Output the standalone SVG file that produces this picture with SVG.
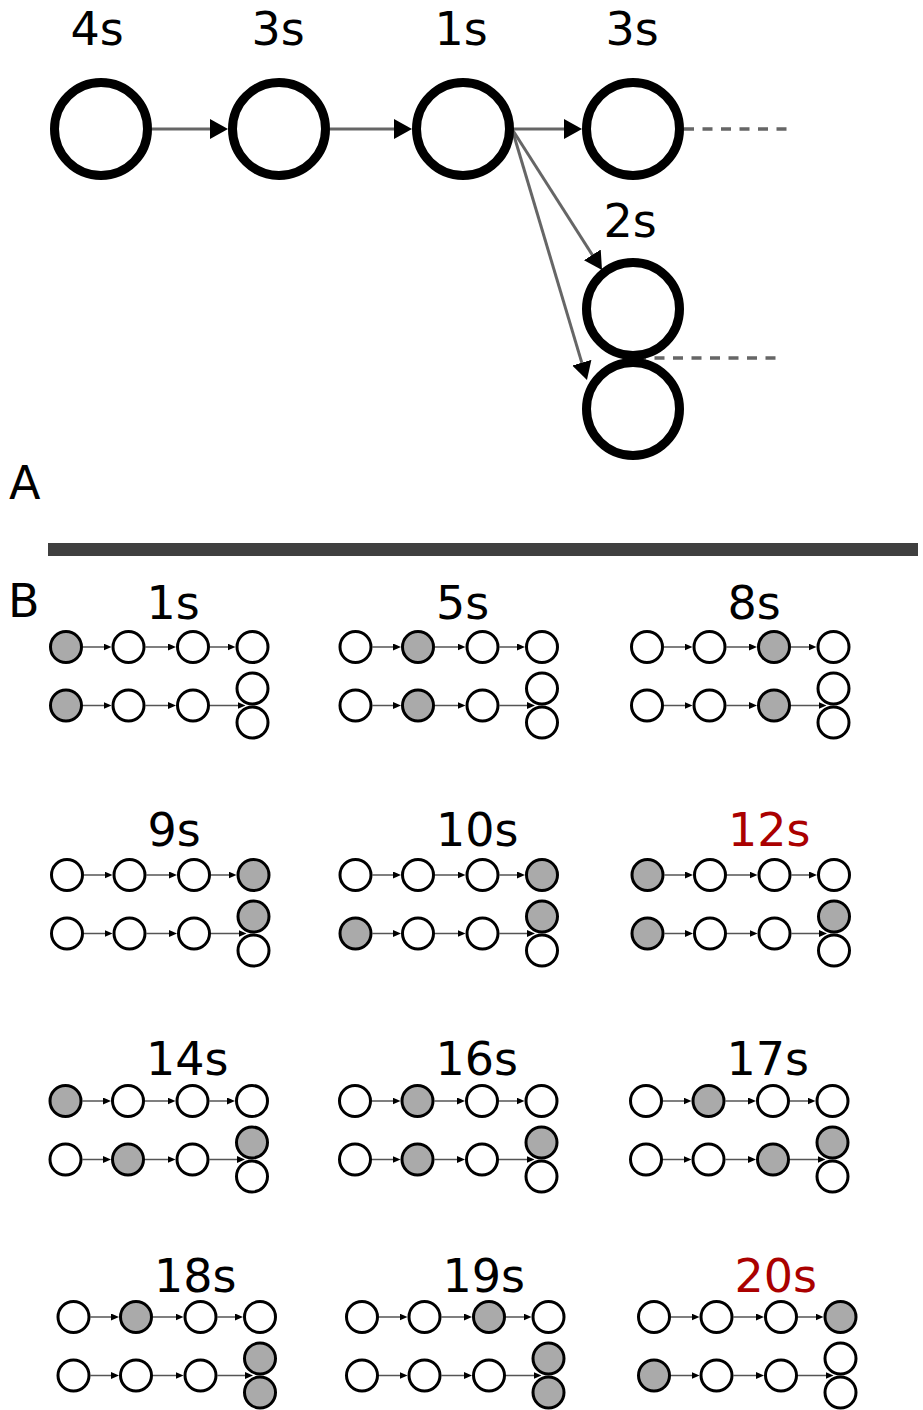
<svg xmlns="http://www.w3.org/2000/svg" xmlns:xlink="http://www.w3.org/1999/xlink" width="923" height="1410" viewBox="0 0 923 1410">
<style>
  text { font-family: "DejaVu Sans", "Liberation Sans", sans-serif; font-size: 46px; fill: #000; }
  .red { fill: #aa0000; }
  .big { fill: #fff; stroke: #000; stroke-width: 9; }
  .edge { stroke: #666; stroke-width: 3; fill: none; }
  .dash { stroke: #666; stroke-width: 3.5; fill: none; stroke-dasharray: 10 8.5; }
  .sm { fill: #fff; stroke: #000; stroke-width: 3; }
  .on { fill: #aaa; }
  .sedge { stroke: #555; stroke-width: 1.5; fill: none; }
</style>
<defs>
  <marker id="ah" viewBox="0 0 18 20" refX="8" refY="10" markerWidth="18" markerHeight="20" markerUnits="userSpaceOnUse" orient="auto">
    <path d="M0,0 L18,10 L0,20 z" fill="#000"/>
  </marker>
  <marker id="sah" viewBox="0 0 8 7" refX="5" refY="3.5" markerWidth="8" markerHeight="7" markerUnits="userSpaceOnUse" orient="auto">
    <path d="M0,0 L8,3.5 L0,7 z" fill="#000"/>
  </marker>
  <g id="pedges">
    <line class="sedge" x1="17" y1="0" x2="42.5" y2="0" marker-end="url(#sah)"/>
    <line class="sedge" x1="79.5" y1="0" x2="107" y2="0" marker-end="url(#sah)"/>
    <line class="sedge" x1="144" y1="0" x2="166.5" y2="0" marker-end="url(#sah)"/>
    <line class="sedge" x1="17" y1="58.5" x2="42.5" y2="58.5" marker-end="url(#sah)"/>
    <line class="sedge" x1="79.5" y1="58.5" x2="107" y2="58.5" marker-end="url(#sah)"/>
    <line class="sedge" x1="144" y1="58.5" x2="176.5" y2="58.5" marker-end="url(#sah)"/>
  </g>
</defs>

<!-- Part A -->
<g id="connectors-A">
  <line class="edge" x1="152" y1="129" x2="218" y2="129" marker-end="url(#ah)"/>
  <line class="edge" x1="330" y1="129" x2="402" y2="129" marker-end="url(#ah)"/>
  <line class="edge" x1="512" y1="129" x2="572" y2="129" marker-end="url(#ah)"/>
  <line class="edge" x1="512" y1="129" x2="596.6" y2="261.6" marker-end="url(#ah)"/>
  <line class="edge" x1="512" y1="129" x2="584.1" y2="370.4" marker-end="url(#ah)"/>
  <line class="dash" x1="684" y1="129" x2="788" y2="129"/>
  <line class="dash" x1="636" y1="358" x2="784" y2="358"/>
</g>
<g id="nodeA1"><circle class="big" cx="101" cy="129" r="46.5"/><text x="97" y="45" text-anchor="middle">4s</text></g>
<g id="nodeA2"><circle class="big" cx="279" cy="129" r="46.5"/><text x="278" y="45" text-anchor="middle">3s</text></g>
<g id="nodeA3"><circle class="big" cx="463" cy="129" r="46.5"/><text x="461" y="45" text-anchor="middle">1s</text></g>
<g id="nodeA4"><circle class="big" cx="633" cy="129" r="46.5"/><text x="632" y="45" text-anchor="middle">3s</text></g>
<g id="nodeA5"><circle class="big" cx="633" cy="309" r="46.5"/><text x="630" y="237" text-anchor="middle">2s</text></g>
<g id="nodeA6"><circle class="big" cx="633" cy="409" r="46.5"/></g>
<text id="labelA" x="9" y="499">A</text>

<rect id="divider" x="48" y="543" width="870" height="13" fill="#3f3f3f"/>

<text id="labelB" x="8" y="617">B</text>

<!-- Part B panels: t1 t2 t3 t4 / b1 b2 b3 / s1 s2 -->
<g id="panel-1s" transform="translate(66,647)">
  <text x="80.5" y="-28">1s</text>
  <use xlink:href="#pedges"/>
  <circle class="sm on" cx="0" cy="0" r="15.5"/><circle class="sm" cx="62.5" cy="0" r="15.5"/><circle class="sm" cx="127" cy="0" r="15.5"/><circle class="sm" cx="186.5" cy="0" r="15.5"/>
  <circle class="sm on" cx="0" cy="58.5" r="15.5"/><circle class="sm" cx="62.5" cy="58.5" r="15.5"/><circle class="sm" cx="127" cy="58.5" r="15.5"/>
  <circle class="sm" cx="186.5" cy="41.5" r="15.5"/><circle class="sm" cx="186.5" cy="75.5" r="15.5"/>
</g>
<g id="panel-5s" transform="translate(355.5,647)">
  <text x="80.5" y="-28">5s</text>
  <use xlink:href="#pedges"/>
  <circle class="sm" cx="0" cy="0" r="15.5"/><circle class="sm on" cx="62.5" cy="0" r="15.5"/><circle class="sm" cx="127" cy="0" r="15.5"/><circle class="sm" cx="186.5" cy="0" r="15.5"/>
  <circle class="sm" cx="0" cy="58.5" r="15.5"/><circle class="sm on" cx="62.5" cy="58.5" r="15.5"/><circle class="sm" cx="127" cy="58.5" r="15.5"/>
  <circle class="sm" cx="186.5" cy="41.5" r="15.5"/><circle class="sm" cx="186.5" cy="75.5" r="15.5"/>
</g>
<g id="panel-8s" transform="translate(647,647)">
  <text x="80.5" y="-28">8s</text>
  <use xlink:href="#pedges"/>
  <circle class="sm" cx="0" cy="0" r="15.5"/><circle class="sm" cx="62.5" cy="0" r="15.5"/><circle class="sm on" cx="127" cy="0" r="15.5"/><circle class="sm" cx="186.5" cy="0" r="15.5"/>
  <circle class="sm" cx="0" cy="58.5" r="15.5"/><circle class="sm" cx="62.5" cy="58.5" r="15.5"/><circle class="sm on" cx="127" cy="58.5" r="15.5"/>
  <circle class="sm" cx="186.5" cy="41.5" r="15.5"/><circle class="sm" cx="186.5" cy="75.5" r="15.5"/>
</g>

<g id="panel-9s" transform="translate(67,875)">
  <text x="80.5" y="-29">9s</text>
  <use xlink:href="#pedges"/>
  <circle class="sm" cx="0" cy="0" r="15.5"/><circle class="sm" cx="62.5" cy="0" r="15.5"/><circle class="sm" cx="127" cy="0" r="15.5"/><circle class="sm on" cx="186.5" cy="0" r="15.5"/>
  <circle class="sm" cx="0" cy="58.5" r="15.5"/><circle class="sm" cx="62.5" cy="58.5" r="15.5"/><circle class="sm" cx="127" cy="58.5" r="15.5"/>
  <circle class="sm on" cx="186.5" cy="41.5" r="15.5"/><circle class="sm" cx="186.5" cy="75.5" r="15.5"/>
</g>
<g id="panel-10s" transform="translate(355.5,875)">
  <text x="80.5" y="-29">10s</text>
  <use xlink:href="#pedges"/>
  <circle class="sm" cx="0" cy="0" r="15.5"/><circle class="sm" cx="62.5" cy="0" r="15.5"/><circle class="sm" cx="127" cy="0" r="15.5"/><circle class="sm on" cx="186.5" cy="0" r="15.5"/>
  <circle class="sm on" cx="0" cy="58.5" r="15.5"/><circle class="sm" cx="62.5" cy="58.5" r="15.5"/><circle class="sm" cx="127" cy="58.5" r="15.5"/>
  <circle class="sm on" cx="186.5" cy="41.5" r="15.5"/><circle class="sm" cx="186.5" cy="75.5" r="15.5"/>
</g>
<g id="panel-12s" transform="translate(647.5,875)">
  <text class="red" x="80.5" y="-29">12s</text>
  <use xlink:href="#pedges"/>
  <circle class="sm on" cx="0" cy="0" r="15.5"/><circle class="sm" cx="62.5" cy="0" r="15.5"/><circle class="sm" cx="127" cy="0" r="15.5"/><circle class="sm" cx="186.5" cy="0" r="15.5"/>
  <circle class="sm on" cx="0" cy="58.5" r="15.5"/><circle class="sm" cx="62.5" cy="58.5" r="15.5"/><circle class="sm" cx="127" cy="58.5" r="15.5"/>
  <circle class="sm on" cx="186.5" cy="41.5" r="15.5"/><circle class="sm" cx="186.5" cy="75.5" r="15.5"/>
</g>

<g id="panel-14s" transform="translate(65.5,1101)">
  <text x="80.5" y="-26">14s</text>
  <use xlink:href="#pedges"/>
  <circle class="sm on" cx="0" cy="0" r="15.5"/><circle class="sm" cx="62.5" cy="0" r="15.5"/><circle class="sm" cx="127" cy="0" r="15.5"/><circle class="sm" cx="186.5" cy="0" r="15.5"/>
  <circle class="sm" cx="0" cy="58.5" r="15.5"/><circle class="sm on" cx="62.5" cy="58.5" r="15.5"/><circle class="sm" cx="127" cy="58.5" r="15.5"/>
  <circle class="sm on" cx="186.5" cy="41.5" r="15.5"/><circle class="sm" cx="186.5" cy="75.5" r="15.5"/>
</g>
<g id="panel-16s" transform="translate(355,1101)">
  <text x="80.5" y="-26">16s</text>
  <use xlink:href="#pedges"/>
  <circle class="sm" cx="0" cy="0" r="15.5"/><circle class="sm on" cx="62.5" cy="0" r="15.5"/><circle class="sm" cx="127" cy="0" r="15.5"/><circle class="sm" cx="186.5" cy="0" r="15.5"/>
  <circle class="sm" cx="0" cy="58.5" r="15.5"/><circle class="sm on" cx="62.5" cy="58.5" r="15.5"/><circle class="sm" cx="127" cy="58.5" r="15.5"/>
  <circle class="sm on" cx="186.5" cy="41.5" r="15.5"/><circle class="sm" cx="186.5" cy="75.5" r="15.5"/>
</g>
<g id="panel-17s" transform="translate(646,1101)">
  <text x="80.5" y="-26">17s</text>
  <use xlink:href="#pedges"/>
  <circle class="sm" cx="0" cy="0" r="15.5"/><circle class="sm on" cx="62.5" cy="0" r="15.5"/><circle class="sm" cx="127" cy="0" r="15.5"/><circle class="sm" cx="186.5" cy="0" r="15.5"/>
  <circle class="sm" cx="0" cy="58.5" r="15.5"/><circle class="sm" cx="62.5" cy="58.5" r="15.5"/><circle class="sm on" cx="127" cy="58.5" r="15.5"/>
  <circle class="sm on" cx="186.5" cy="41.5" r="15.5"/><circle class="sm" cx="186.5" cy="75.5" r="15.5"/>
</g>

<g id="panel-18s" transform="translate(73.5,1317)">
  <text x="80.5" y="-25">18s</text>
  <use xlink:href="#pedges"/>
  <circle class="sm" cx="0" cy="0" r="15.5"/><circle class="sm on" cx="62.5" cy="0" r="15.5"/><circle class="sm" cx="127" cy="0" r="15.5"/><circle class="sm" cx="186.5" cy="0" r="15.5"/>
  <circle class="sm" cx="0" cy="58.5" r="15.5"/><circle class="sm" cx="62.5" cy="58.5" r="15.5"/><circle class="sm" cx="127" cy="58.5" r="15.5"/>
  <circle class="sm on" cx="186.5" cy="41.5" r="15.5"/><circle class="sm on" cx="186.5" cy="75.5" r="15.5"/>
</g>
<g id="panel-19s" transform="translate(362,1317)">
  <text x="80.5" y="-25">19s</text>
  <use xlink:href="#pedges"/>
  <circle class="sm" cx="0" cy="0" r="15.5"/><circle class="sm" cx="62.5" cy="0" r="15.5"/><circle class="sm on" cx="127" cy="0" r="15.5"/><circle class="sm" cx="186.5" cy="0" r="15.5"/>
  <circle class="sm" cx="0" cy="58.5" r="15.5"/><circle class="sm" cx="62.5" cy="58.5" r="15.5"/><circle class="sm" cx="127" cy="58.5" r="15.5"/>
  <circle class="sm on" cx="186.5" cy="41.5" r="15.5"/><circle class="sm on" cx="186.5" cy="75.5" r="15.5"/>
</g>
<g id="panel-20s" transform="translate(654,1317)">
  <text class="red" x="80.5" y="-25">20s</text>
  <use xlink:href="#pedges"/>
  <circle class="sm" cx="0" cy="0" r="15.5"/><circle class="sm" cx="62.5" cy="0" r="15.5"/><circle class="sm" cx="127" cy="0" r="15.5"/><circle class="sm on" cx="186.5" cy="0" r="15.5"/>
  <circle class="sm on" cx="0" cy="58.5" r="15.5"/><circle class="sm" cx="62.5" cy="58.5" r="15.5"/><circle class="sm" cx="127" cy="58.5" r="15.5"/>
  <circle class="sm" cx="186.5" cy="41.5" r="15.5"/><circle class="sm" cx="186.5" cy="75.5" r="15.5"/>
</g>
</svg>
